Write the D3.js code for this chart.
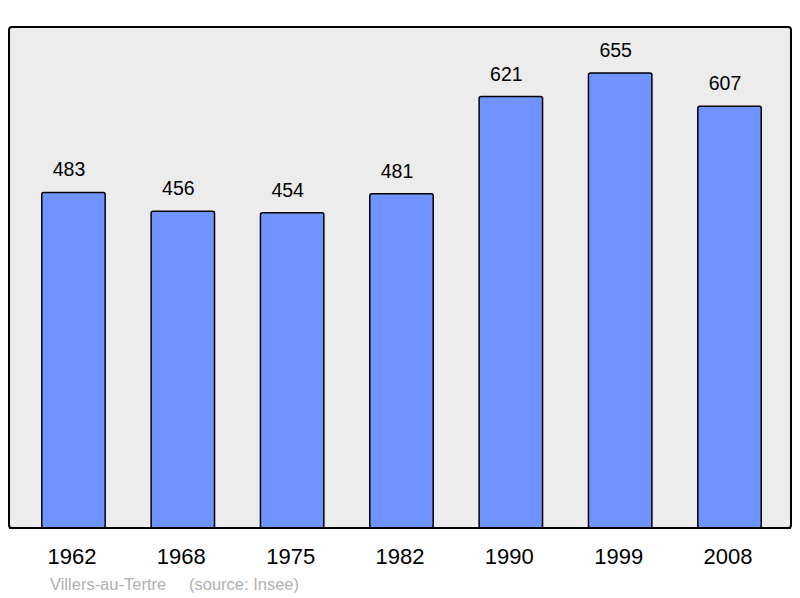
<!DOCTYPE html>
<html>
<head>
<meta charset="utf-8">
<script src="https://cdn.jsdelivr.net/npm/d3@7"></script>
<style>
  body { margin: 0; background: #fff; }
  text { font-family: "Liberation Sans", Arial, sans-serif; }
</style>
</head>
<body>
<svg id="chart" width="800" height="598"></svg>
<script>
var years = ["1962", "1968", "1975", "1982", "1990", "1999", "2008"];
var population = [483, 456, 454, 481, 621, 655, 607];
var place = "Villers-au-Tertre";
var source = "(source: Insee)";

var svg = d3.select("#chart");
var baseline = 528;

// panel
svg.append("rect")
  .attr("x", 9).attr("y", 27)
  .attr("width", 782).attr("height", 501)
  .attr("rx", 3)
  .attr("fill", "#ececec")
  .attr("stroke", "#000")
  .attr("stroke-width", 2);

var x = d3.scaleBand()
  .domain(years)
  .range([18.8, 784.2])
  .paddingInner(0.42)
  .paddingOuter(0.21);

var y = d3.scaleLinear()
  .domain([0, 655])
  .range([baseline, 73]);

var data = years.map(function(yr, i){ return {year: yr, value: population[i]}; });

svg.selectAll("rect.bar").data(data).enter()
  .append("rect")
  .attr("class", "bar")
  .attr("x", function(d){ return x(d.year); })
  .attr("y", function(d){ return y(d.value); })
  .attr("width", x.bandwidth())
  .attr("height", function(d){ return baseline - y(d.value); })
  .attr("rx", 2)
  .attr("fill", "#7094ff")
  .attr("stroke", "#000")
  .attr("stroke-width", 1.5);

// value labels (sit a little left of bar centre, as in the original)
svg.selectAll("text.val").data(data).enter()
  .append("text")
  .attr("class", "val")
  .attr("x", function(d){ return x(d.year) + x.bandwidth() / 2 - 4.5; })
  .attr("y", function(d){ return y(d.value) - 16; })
  .attr("text-anchor", "middle")
  .attr("font-size", 19.5)
  .attr("fill", "#000")
  .text(function(d){ return d.value; });

// redraw bottom edge of panel over bars
svg.append("line")
  .attr("x1", 9).attr("x2", 791)
  .attr("y1", baseline).attr("y2", baseline)
  .attr("stroke", "#000").attr("stroke-width", 2);

// year axis
var axis = d3.axisBottom(x).tickSize(0).tickPadding(0);
var g = svg.append("g")
  .attr("transform", "translate(-1.5," + 564 + ")")
  .call(axis);
g.select(".domain").remove();
g.selectAll("text")
  .attr("dy", 0)
  .attr("font-size", 22)
  .attr("fill", "#000")
  .style("font-family", "'Liberation Sans', Arial, sans-serif");

svg.append("text")
  .attr("x", 50).attr("y", 590)
  .attr("font-size", 16.5)
  .attr("fill", "#b0b0b0")
  .text(place);
svg.append("text")
  .attr("x", 189).attr("y", 590)
  .attr("font-size", 16.5)
  .attr("fill", "#b0b0b0")
  .text(source);
</script>
</body>
</html>
